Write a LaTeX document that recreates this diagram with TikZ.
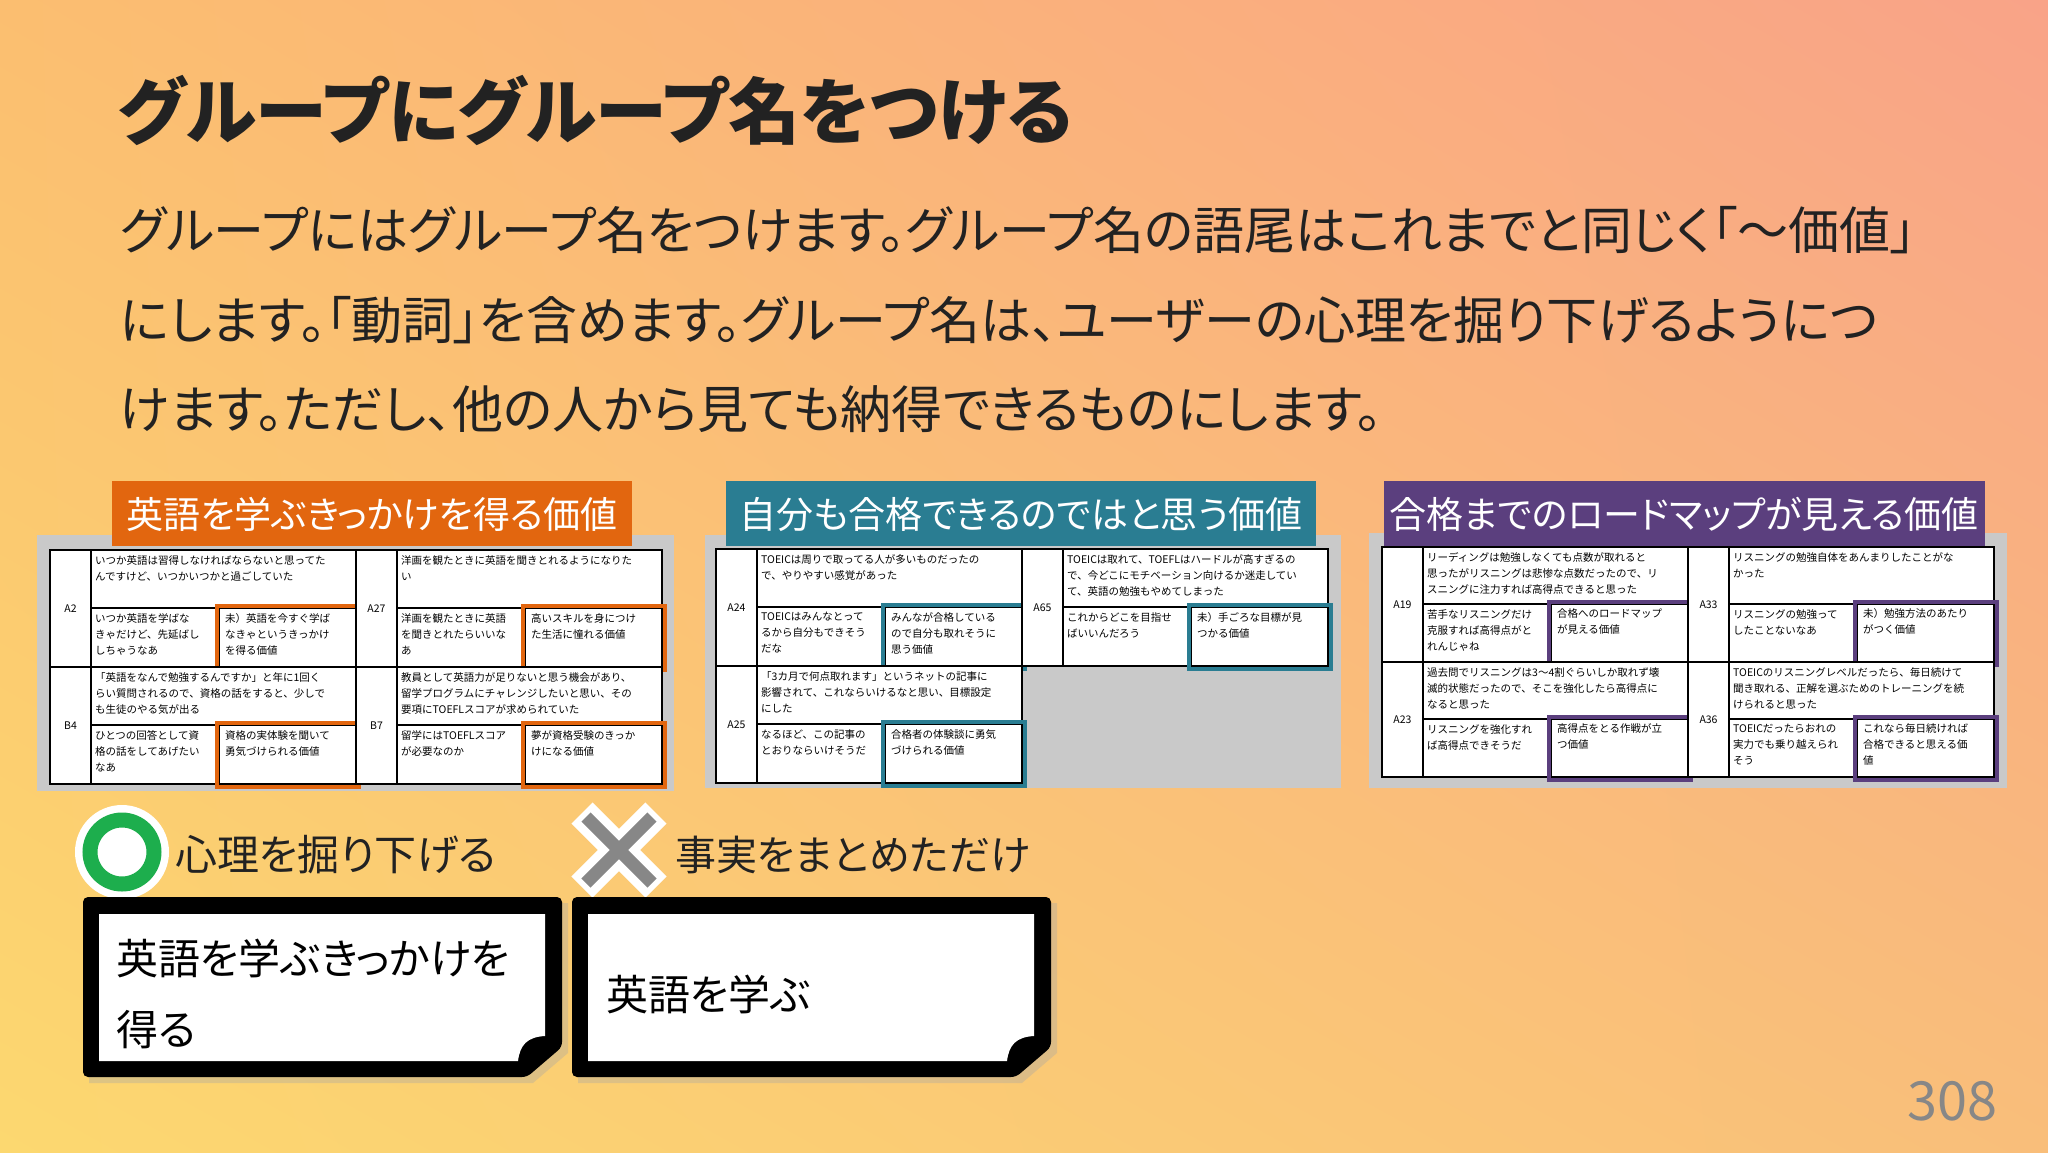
\documentclass[tikz,border=0pt]{standalone}
\usepackage{fontspec}
\usetikzlibrary{shadings}
\setmainfont{Noto Sans CJK JP}[RawFeature=+palt]
\newfontfamily\cellf{Noto Sans CJK JP}
\XeTeXlinebreaklocale "ja"
\XeTeXlinebreakskip=0pt plus 1pt
\definecolor{cOr}{HTML}{E2660F}
\definecolor{cTe}{HTML}{2A7D92}
\definecolor{cPu}{HTML}{5B3F7E}
\definecolor{cGr}{HTML}{C9C9C9}
\definecolor{cGreen}{HTML}{1DAE4D}
\definecolor{cX}{HTML}{878787}
\definecolor{cTxt}{HTML}{222222}
\definecolor{bgUL}{RGB}{251,190,112}
\definecolor{bgUR}{RGB}{249,163,136}
\definecolor{bgLL}{RGB}{252,216,112}
\definecolor{bgLR}{RGB}{249,190,122}
\tikzset{
 cell/.style={anchor=north west,inner sep=0pt,align=left,font=\cellf\fontsize{10.5}{16}\selectfont,text=black},
 lbl/.style={inner sep=0pt,font=\cellf\fontsize{10.5}{12}\selectfont},
 head/.style={inner sep=0pt,text=white,font=\fontsize{37}{40}\selectfont},
 big/.style={anchor=base west,inner sep=0pt,text=cTxt,font=\fontsize{45}{50}\selectfont},
}
% quadrant: x y w h color name label top bl
\newcommand\qd[9]{%
\begin{scope}[shift={(#1,#2)}]
 \pgfmathsetmacro\qw{#3}\pgfmathsetmacro\qh{#4}
 \pgfmathsetmacro\th{#4*0.497}\pgfmathsetmacro\sp{#3*0.552}
 \fill[white] (0,0) rectangle (\qw,\qh);
 \draw[line width=1.8pt] (0,0) rectangle (\qw,\qh);
 \draw[line width=1.4pt] (41,0) -- (41,\qh) (41,\th) -- (\qw,\th) (\sp,\th) -- (\sp,\qh);
 \node[lbl] (l#6) at (20.5,\qh*0.5) {#7};
 \node[cell] (t#6) at (45,5) {#8};
 \node[cell] (b#6) at (45,\th+5) {#9};
 \draw[#5,line width=4.5pt] (\sp-2,\th-2) rectangle (\qw+3,\qh+3);
\end{scope}}
\newcommand\qr[3]{\begin{scope}[shift={(#1,#2)}]\pgfmathsetmacro\th{117*0.497}\pgfmathsetmacro\sp{306*0.552}\node[cell] at (\sp+6,\th+5) {#3};\end{scope}}
\begin{document}
\begin{tikzpicture}[x=1pt,y=-1pt]
\useasboundingbox (0,0) rectangle (2048,1152);
\shade[upper left=bgUL,upper right=bgUR,lower left=bgLL,lower right=bgLR] (0,0) rectangle (2048,1152);
% title
\node[anchor=base west,inner sep=0pt,text=cTxt,font=\fontsize{72}{80}\selectfont\bfseries] (title) at (118,138) {グループにグループ名をつける};
\node[big,font=\fontsize{51}{54}\selectfont] (p1) at (120,249) {グループにはグループ名をつけます。グループ名の語尾はこれまでと同じく「～価値」};
\node[big,font=\fontsize{51}{54}\selectfont] (p2) at (120,339) {にします。「動詞」を含めます。グループ名は、ユーザーの心理を掘り下げるようにつ};
\node[big,font=\fontsize{51}{54}\selectfont] (p3) at (120,428) {けます。ただし、他の人から見ても納得できるものにします。};
% panels
\fill[cGr] (37,535) rectangle (674,791);
\fill[cGr] (705,535) rectangle (1341,788);
\fill[cGr] (1369,533) rectangle (2007,788);
\fill[cOr] (112,481) rectangle (632,546);
\node[head] (h1) at (372,514) {英語を学ぶきっかけを得る価値};
\fill[cTe] (726,481) rectangle (1316,546);
\node[head] (h2) at (1021,514) {自分も合格できるのではと思う価値};
\fill[cPu] (1384,481) rectangle (1985,546);
\node[head] (h3) at (1684,514) {合格までのロードマップが見える価値};
% table 1
\qd{50}{550}{306}{117}{cOr}{a}{A2}{いつか英語は習得しなければならないと思ってた\\んですけど、いつかいつかと過ごしていた}{いつか英語を学ばな\\きゃだけど、先延ばし\\しちゃうなあ}
\qr{50}{550}{未）英語を今すぐ学ば\\なきゃというきっかけ\\を得る価値}
\qd{356}{550}{306}{117}{cOr}{b}{A27}{洋画を観たときに英語を聞きとれるようになりた\\い}{洋画を観たときに英語\\を聞きとれたらいいな\\あ}
\qr{356}{550}{高いスキルを身につけ\\た生活に憧れる価値}
\qd{50}{667}{306}{117}{cOr}{c}{B4}{「英語をなんで勉強するんですか」と年に1回く\\らい質問されるので、資格の話をすると、少しで\\も生徒のやる気が出る}{ひとつの回答として資\\格の話をしてあげたい\\なあ}
\qr{50}{667}{資格の実体験を聞いて\\勇気づけられる価値}
\qd{356}{667}{306}{117}{cOr}{d}{B7}{教員として英語力が足りないと思う機会があり、\\留学プログラムにチャレンジしたいと思い、その\\要項にTOEFLスコアが求められていた}{留学にはTOEFLスコア\\が必要なのか}
\qr{356}{667}{夢が資格受験のきっか\\けになる価値}
% table 2
\qd{716}{549}{306}{117}{cTe}{e}{A24}{TOEICは周りで取ってる人が多いものだったの\\で、やりやすい感覚があった}{TOEICはみんなとって\\るから自分もできそう\\だな}
\qr{716}{549}{みんなが合格している\\ので自分も取れそうに\\思う価値}
\qd{1022}{549}{306}{117}{cTe}{f}{A65}{TOEICは取れて、TOEFLはハードルが高すぎるの\\で、今どこにモチベーション向けるか迷走してい\\て、英語の勉強もやめてしまった}{これからどこを目指せ\\ばいいんだろう}
\qr{1022}{549}{未）手ごろな目標が見\\つかる価値}
\qd{716}{666}{306}{117}{cTe}{g}{A25}{「3カ月で何点取れます」というネットの記事に\\影響されて、これならいけるなと思い、目標設定\\にした}{なるほど、この記事の\\とおりならいけそうだ}
\qr{716}{666}{合格者の体験談に勇気\\づけられる価値}
% table 3
\qd{1382}{547}{306}{115}{cPu}{h}{A19}{リーディングは勉強しなくても点数が取れると\\思ったがリスニングは悲惨な点数だったので、リ\\スニングに注力すれば高得点できると思った}{苦手なリスニングだけ\\克服すれば高得点がと\\れんじゃね}
\qr{1382}{545}{合格へのロードマップ\\が見える価値}
\qd{1688}{547}{306}{115}{cPu}{i}{A33}{リスニングの勉強自体をあんまりしたことがな\\かった}{リスニングの勉強って\\したことないなあ}
\qr{1688}{545}{未）勉強方法のあたり\\がつく価値}
\qd{1382}{662}{306}{115}{cPu}{j}{A23}{過去問でリスニングは3～4割ぐらいしか取れず壊\\滅的状態だったので、そこを強化したら高得点に\\なると思った}{リスニングを強化すれ\\ば高得点できそうだ}
\qr{1382}{660}{高得点をとる作戦が立\\つ価値}
\qd{1688}{662}{306}{115}{cPu}{k}{A36}{TOEICのリスニングレベルだったら、毎日続けて\\聞き取れる、正解を選ぶためのトレーニングを続\\けられると思った}{TOEICだったらおれの\\実力でも乗り越えられ\\そう}
\qr{1688}{660}{これなら毎日続ければ\\合格できると思える価\\値}
% marks
\fill[white] (122,852) circle (47);
\draw[cGreen,line width=15pt] (122,852) circle (32);
\node[big,font=\fontsize{42}{50}\selectfont] (good) at (175,870) {心理を掘り下げる};
\draw[white,line width=30pt] (582,813) -- (656,887) (656,813) -- (582,887);
\draw[cX,line width=13pt] (586,817) -- (652,883) (652,817) -- (586,883);
\node[big,font=\fontsize{41}{50}\selectfont] (bad) at (675,870) {事実をまとめただけ};
% boxes
\foreach \bx/\bw [count=\i] in {83/479,572/479}{
 \fill[black!35,opacity=.35] (\bx+6,897+6) -- (\bx+\bw+6,897+6) -- (\bx+\bw+6,1047+6) -- (\bx+\bw-29,1077+6) -- (\bx+6,1077+6) -- cycle;
 \fill[black,rounded corners=5pt] (\bx,897) -- (\bx+\bw,897) -- (\bx+\bw,1047) -- (\bx+\bw-35,1077) -- (\bx,1077) -- cycle;
 \fill[white] (\bx+16,914) -- (\bx+\bw-17,914) -- (\bx+\bw-17,1036) .. controls (\bx+\bw-35,1037) and (\bx+\bw-42,1045) .. (\bx+\bw-44,1061) -- (\bx+16,1061) -- cycle;
}
\node[big,font=\fontsize{42}{50}\selectfont,text=black] (b1a) at (116,974) {英語を学ぶきっかけを};
\node[big,font=\fontsize{42}{50}\selectfont,text=black] (b1b) at (116,1045) {得る};
\node[big,font=\fontsize{42}{50}\selectfont,text=black] (b2) at (606,1010) {英語を学ぶ};
\node[anchor=base east,inner sep=0pt,text=cX,font=\fontsize{54}{60}\selectfont] (pg) at (1998,1120) {308};
\end{tikzpicture}
\end{document}
